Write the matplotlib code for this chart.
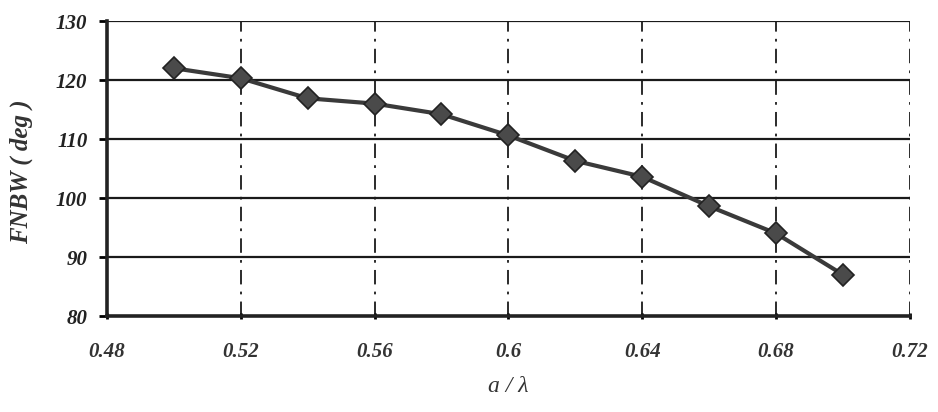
import numpy as np
import matplotlib.pyplot as plt

# a / lambda values and first-null beamwidth (deg)
a_lambda = [0.50, 0.52, 0.54, 0.56, 0.58, 0.60, 0.62, 0.64, 0.66, 0.68, 0.70]
fnbw = [122.0, 120.3, 116.9, 116.0, 114.2, 110.6, 106.3, 103.6, 98.6, 94.0, 87.0]

x_ticks = [0.48, 0.52, 0.56, 0.60, 0.64, 0.68, 0.72]
x_tick_labels = ['0.48', '0.52', '0.56', '0.6', '0.64', '0.68', '0.72']
y_ticks = [80, 90, 100, 110, 120, 130]

fig = plt.figure(figsize=(9.38, 4.12), dpi=100)
ax = fig.add_axes([0.114, 0.233, 0.856, 0.716])

font = dict(family='Liberation Serif', style='italic', weight='bold')

# horizontal grid lines (solid) and vertical ones (dash-dot)
for yv in y_ticks[1:]:
    ax.axhline(yv, color='#1a1a1a', lw=1.6, zorder=1)
for xv in x_ticks[1:]:
    ax.axvline(xv, color='#1a1a1a', lw=1.3, ls='-.', dashes=(8, 4, 1.5, 4), zorder=1)

ax.plot(a_lambda, fnbw, color='#3a3a3a', lw=3, marker='D', markersize=11,
        markerfacecolor='#4a4a4a', markeredgecolor='#222222', markeredgewidth=1.2, zorder=3)

ax.set_xlim(0.48, 0.72)
ax.set_ylim(80, 130)
ax.set_xticks(x_ticks)
ax.set_xticklabels(x_tick_labels, fontdict=font, fontsize=15, color='#333333')
ax.set_yticks(y_ticks)
ax.set_yticklabels([str(v) for v in y_ticks], fontdict=font, fontsize=15, color='#222222')
ax.tick_params(axis='x', length=4, width=2, pad=17, direction='inout')
ax.tick_params(axis='y', length=6, width=2, pad=8, direction='out')

for s in ['top', 'right']:
    ax.spines[s].set_visible(False)
for s in ['left', 'bottom']:
    ax.spines[s].set_linewidth(2.6)
    ax.spines[s].set_color('#222222')

ax.set_ylabel('FNBW ( deg )', family='Liberation Serif', style='italic', weight='bold',
              fontsize=18, color='#333333')
ax.yaxis.set_label_coords(-0.092, 0.49)
ax.set_xlabel('a / λ', family='Liberation Serif', style='italic', fontsize=17, color='#333333', labelpad=10)

plt.savefig('out.png', dpi=100)
